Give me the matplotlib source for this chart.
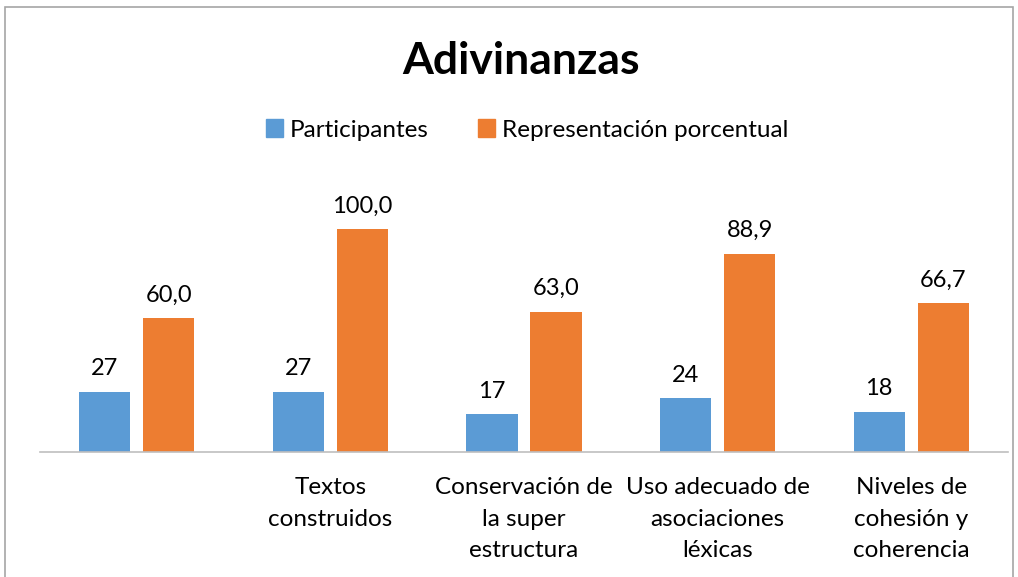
import numpy as np
import matplotlib.pyplot as plt
from matplotlib.patches import Rectangle, Patch

# Datos
categorias = ["", "Textos\nconstruidos", "Conservación de\nla super\nestructura",
              "Uso adecuado de\nasociaciones\nléxicas", "Niveles de\ncohesión y\ncoherencia"]
participantes = [27, 27, 17, 24, 18]
porcentaje = [60.0, 100.0, 63.0, 88.9, 66.7]

azul = "#5B9BD5"
naranja = "#ED7D31"

plt.rcParams['font.family'] = ['Lato', 'DejaVu Sans']

W, H = 1018, 577
fig = plt.figure(figsize=(W / 100, H / 100), dpi=100)

# area del grafico en pixeles: x 40..1008, y 180..452
ax = fig.add_axes([40 / W, (H - 452) / H, 968 / W, 272 / H])
x = np.arange(len(categorias))
ancho = 0.265
sep = 0.033

b1 = ax.bar(x - ancho / 2 - sep, participantes, ancho, color=azul)
b2 = ax.bar(x + ancho / 2 + sep, porcentaje, ancho, color=naranja)

for rect, v in zip(b1, participantes):
    ax.annotate(f"{v}", (rect.get_x() + rect.get_width() / 2, rect.get_height()),
                xytext=(0, 9), textcoords="offset points", ha="center", va="bottom",
                fontsize=17)
for rect, v in zip(b2, porcentaje):
    ax.annotate(f"{v:.1f}".replace(".", ","), (rect.get_x() + rect.get_width() / 2, rect.get_height()),
                xytext=(0, 9), textcoords="offset points", ha="center", va="bottom",
                fontsize=17)

ax.set_xlim(-0.5, len(categorias) - 0.5)
ax.set_ylim(0, 272 / 2.23)
ax.set_yticks([])
ax.set_xticks(x)
ax.set_xticklabels(categorias, fontsize=17.5, linespacing=1.62, va="top")
ax.tick_params(axis="x", length=0, pad=18)
for s in ["top", "right", "left"]:
    ax.spines[s].set_visible(False)
ax.spines["bottom"].set_color("#BFBFBF")
ax.spines["bottom"].set_linewidth(1.2)

fig.text(521 / W, 1 - 61 / H, "Adivinanzas", ha="center", va="center",
         fontsize=32, fontweight="bold")

handles = [Patch(color=azul), Patch(color=naranja)]
fig.legend(handles, ["Participantes", "Representación porcentual"],
           loc="center", bbox_to_anchor=(527 / W, 1 - 130 / H), ncol=2,
           frameon=False, fontsize=17.5, handlelength=0.7, handleheight=0.7,
           handletextpad=0.3, columnspacing=2.0)

# borde del grafico
fig.patches.append(Rectangle((5 / W, -0.05), 1008 / W, 1 - 7 / H + 0.05,
                             transform=fig.transFigure, fill=False,
                             edgecolor="#A6A6A6", linewidth=1.2))

fig.savefig("out.png", dpi=100)
